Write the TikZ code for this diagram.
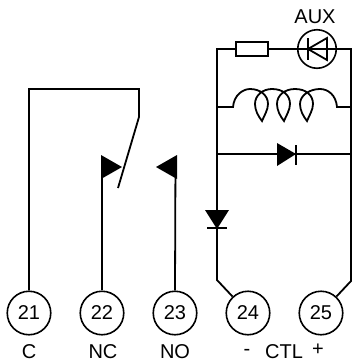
\documentclass[tikz,border=0pt]{standalone}
\usepackage{fontspec}
\setmainfont{Liberation Sans}
\tikzset{
  wire/.style={line width=1.8pt,line join=miter},
  term/.style={circle,draw,line width=1.6pt,minimum size=43.5pt,inner sep=0pt,font=\fontsize{20}{20}\selectfont},
  lab/.style={inner sep=0pt,font=\fontsize{20}{20}\selectfont},
}
\begin{document}
\begin{tikzpicture}[x=1pt,y=-1pt]
\useasboundingbox (0,0) rectangle (356,362);
\node[term] (t21) at (29,313) {21};
\node[term] (t22) at (102,313) {22};
\node[term] (t23) at (175,313) {23};
\node[term] (t24) at (248,313) {24};
\node[term] (t25) at (321,313) {25};
\node[lab] (lc) at (29,352) {C};
\node[lab] (lnc) at (103,352) {NC};
\node[lab] (lno) at (175,352) {NO};
\node[lab] (lm) at (247,352) {-};
\node[lab] (lctl) at (284,352) {CTL};
\node[lab] (lp) at (318,350) {+};
\node[lab] (laux) at (315,17) {AUX};
% contact
\coordinate (hinge) at (139,117);
\coordinate (bladeend) at (118,188);
\draw[wire] (t21.north) -- (29,89) -- (139,89) -- (hinge) -- (bladeend);
\draw[wire] (t22.north) -- (102,157);
\draw[wire] (t23.north) -- (175.5,157);
\fill (101,155) -- (122,167) -- (101,179) -- cycle;
\fill (177,155) -- (156,167) -- (177,179) -- cycle;
% rails
\node[draw,line width=1.8pt,minimum width=32pt,minimum height=14pt,inner sep=0pt] (res) at (252,49) {};
\node[circle,draw,line width=1.6pt,minimum size=38.5pt,inner sep=0pt] (led) at (317,49) {};
\draw[wire] (t24) -- (217,280) -- (217,49) -- (res.west);
\draw[wire] (res.east) -- (351,49) -- (351,281) -- (t25);
% LED
\draw[line width=1.8pt,line join=miter] (327,38) -- (308,49) -- (327,60) -- cycle;
\draw[wire] (308,38) -- (308,60);
% coil
\draw[wire] (217,107) -- (233,107)
  .. controls (234,95) and (243,89) .. (250,89)
  .. controls (260,89) and (268,95) .. (268,104)
  .. controls (268,110) and (264,116) .. (262,121)
  .. controls (258,116) and (255,110) .. (255,104)
  .. controls (255,95) and (263,89) .. (272,89)
  .. controls (283,89) and (290,95) .. (290,104)
  .. controls (290,110) and (286,116) .. (284,121)
  .. controls (280,116) and (277,110) .. (277,104)
  .. controls (277,95) and (285,89) .. (295,89)
  .. controls (306,89) and (313,95) .. (313,104)
  .. controls (313,110) and (309,116) .. (307,121)
  .. controls (303,116) and (300,110) .. (300,104)
  .. controls (300,95) and (310,89) .. (320,89)
  .. controls (328,89) and (336,95) .. (337,107)
  -- (351,107);
% horizontal diode
\draw[wire] (217,154) -- (351,154);
\fill (277,143) -- (296,154) -- (277,166) -- cycle;
\draw[wire] (296,145) -- (296,165);
% vertical diode
\fill (205,210) -- (229,210) -- (217,229) -- cycle;
\draw[wire] (207,228) -- (227,228);
\end{tikzpicture}
\end{document}
